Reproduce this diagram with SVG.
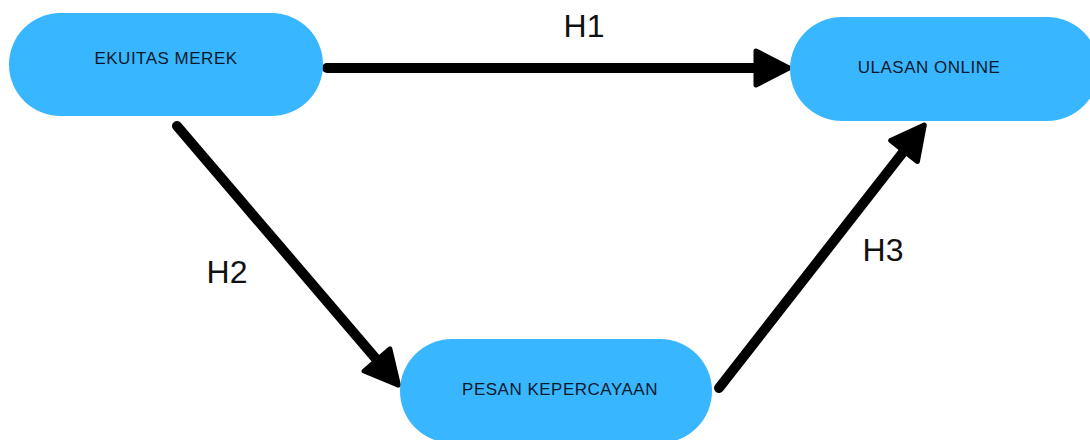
<svg xmlns="http://www.w3.org/2000/svg" width="1090" height="440" viewBox="0 0 1090 440">
  <style>
    .node rect { fill: #38b6ff; }
    .node text { font-family: "Liberation Sans", Arial, sans-serif; font-size: 17px; letter-spacing: 0.5px; fill: #0b1a2b; text-anchor: middle; }
    .edge { stroke: #000; stroke-width: 10; stroke-linecap: round; fill: none; marker-end: url(#head); }
    .tag { font-family: "Liberation Sans", Arial, sans-serif; font-size: 32px; fill: #111; text-anchor: middle; }
  </style>
  <defs>
    <!-- rounded triangular arrowhead, base at the line end -->
    <marker id="head" markerUnits="userSpaceOnUse" viewBox="-4 -21 42 42" markerWidth="42" markerHeight="42" refX="0" refY="0" orient="auto" overflow="visible">
      <path d="M0,-17 L33,0 L0,17 Z" fill="#000" stroke="#000" stroke-width="5" stroke-linejoin="round"/>
    </marker>
  </defs>
  <rect width="1090" height="440" fill="#fff"/>

  <g id="connectors">
    <line class="edge" x1="327" y1="68" x2="756" y2="68"/>
    <line class="edge" x1="177" y1="126" x2="377" y2="360"/>
    <line class="edge" x1="719" y1="388" x2="904" y2="151"/>
    <text class="tag" x="584" y="37">H1</text>
    <text class="tag" x="227" y="283">H2</text>
    <text class="tag" x="883" y="261">H3</text>
  </g>

  <g id="ekuitas-merek" class="node">
    <rect x="9" y="13" width="314" height="103" rx="51.5"/>
    <text x="166" y="64">EKUITAS MEREK</text>
  </g>
  <g id="ulasan-online" class="node">
    <rect x="790" y="17" width="309" height="104" rx="52"/>
    <text x="929" y="73">ULASAN ONLINE</text>
  </g>
  <g id="pesan-kepercayaan" class="node">
    <rect x="400" y="339" width="312" height="104" rx="52"/>
    <text x="560" y="395">PESAN KEPERCAYAAN</text>
  </g>
</svg>
